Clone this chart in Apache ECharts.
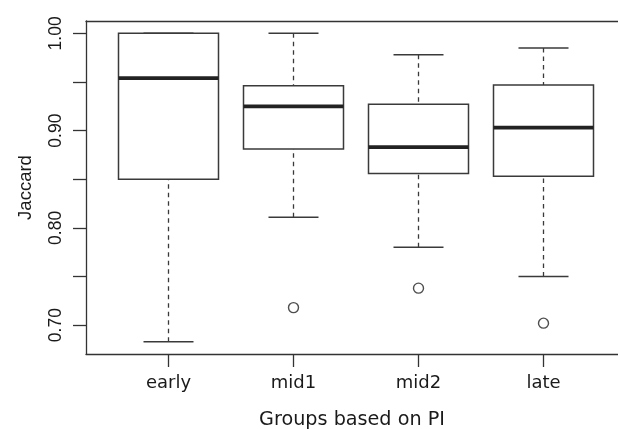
<!DOCTYPE html>
<html>
<head>
<meta charset="utf-8">
<script src="https://cdn.jsdelivr.net/npm/echarts@6/dist/echarts.min.js"></script>
<style>html,body{margin:0;padding:0;background:#fff}#c{width:618px;height:429px}</style>
</head>
<body>
<div id="c"></div>
<script>
var categories = ['early', 'mid1', 'mid2', 'late'];
var lowWhisker = [0.683, 0.811, 0.780, 0.750];
var q1 = [0.850, 0.881, 0.856, 0.853];
var median = [0.954, 0.925, 0.883, 0.903];
var q3 = [1.000, 0.946, 0.927, 0.947];
var highWhisker = [1.000, 1.000, 0.978, 0.985];
var outlierGroup = [2, 3, 4];
var outlierValue = [0.718, 0.738, 0.702];
var yTicks = [0.70, 0.75, 0.80, 0.85, 0.90, 0.95, 1.00];
var yLabels = [0.70, 0.80, 0.90, 1.00];
var xTicks = [1, 2, 3, 4];

var boxData = categories.map(function (c, i) {
  return [i + 1, lowWhisker[i], q1[i], median[i], q3[i], highWhisker[i]];
});
var outData = outlierGroup.map(function (g, i) { return [g, outlierValue[i]]; });

var ink = '#1a1a1a';
var frame = {color: '#333', width: 1.3};
var chart = echarts.init(document.getElementById('c'), null, {renderer: 'canvas'});
chart.setOption({
  animation: false,
  grid: {left: 86, right: 0, top: 21, bottom: 75, outerBoundsMode: 'none', containLabel: false},
  xAxis: [{
    type: 'value', min: 0.34, max: 4.596,
    name: 'Groups based on PI', nameLocation: 'middle', nameGap: 57,
    nameTextStyle: {fontFamily: 'DejaVu Sans', fontSize: 19.2, color: ink},
    axisLine: {show: true, lineStyle: frame},
    splitLine: {show: false},
    axisTick: {show: true, length: 13, customValues: xTicks, lineStyle: frame},
    axisLabel: {customValues: xTicks, margin: 20, fontFamily: 'DejaVu Sans', fontSize: 18, color: ink,
      formatter: function (v) { return categories[Math.round(v) - 1] || ''; }}
  }, {
    type: 'value', min: 0.34, max: 4.596, position: 'top',
    axisLine: {show: true, lineStyle: frame},
    splitLine: {show: false}, axisTick: {show: false}, axisLabel: {show: false}
  }],
  yAxis: {
    type: 'value', min: 0.6703, max: 1.0127,
    name: 'Jaccard', nameLocation: 'middle', nameGap: 51, nameRotate: 90,
    nameTextStyle: {fontFamily: 'Liberation Sans', fontSize: 18.5, color: ink},
    axisLine: {show: true, lineStyle: frame},
    splitLine: {show: false},
    axisTick: {show: true, length: 13, customValues: yTicks, lineStyle: frame},
    axisLabel: {customValues: yLabels, rotate: 90, margin: 21, fontFamily: 'Liberation Sans', fontSize: 17.5, color: ink,
      formatter: function (v) { return v.toFixed(2); }}
  },
  series: [
    {
      type: 'custom',
      data: boxData,
      encode: {x: 0, y: [1, 2, 3, 4, 5]},
      renderItem: function (params, api) {
        var x = api.value(0);
        var lo = api.coord([x, api.value(1)]);
        var b1 = api.coord([x - 0.4, api.value(2)]);
        var b3 = api.coord([x + 0.4, api.value(4)]);
        var mL = api.coord([x - 0.4, api.value(3)]);
        var mR = api.coord([x + 0.4, api.value(3)]);
        var hi = api.coord([x, api.value(5)]);
        var cL = api.coord([x - 0.2, 0.8])[0];
        var cR = api.coord([x + 0.2, 0.8])[0];
        var solid = {stroke: '#3a3a3a', lineWidth: 1.5, fill: null};
        var dashed = {stroke: '#3a3a3a', lineWidth: 1.3, lineDash: [4.5, 4]};
        return {
          type: 'group',
          children: [
            {type: 'line', shape: {x1: lo[0], y1: lo[1], x2: lo[0], y2: b1[1]}, style: dashed},
            {type: 'line', shape: {x1: hi[0], y1: hi[1], x2: hi[0], y2: b3[1]}, style: dashed},
            {type: 'line', shape: {x1: cL, y1: lo[1], x2: cR, y2: lo[1]}, style: solid},
            {type: 'line', shape: {x1: cL, y1: hi[1], x2: cR, y2: hi[1]}, style: solid},
            {type: 'rect', shape: {x: b1[0], y: b3[1], width: b3[0] - b1[0], height: b1[1] - b3[1]}, style: {stroke: '#3a3a3a', lineWidth: 1.5, fill: 'rgba(0,0,0,0)'}},
            {type: 'line', shape: {x1: mL[0], y1: mL[1], x2: mR[0], y2: mR[1]}, style: {stroke: '#222', lineWidth: 3.8}}
          ]
        };
      }
    },
    {
      type: 'scatter',
      data: outData,
      symbol: 'circle',
      symbolSize: 10,
      itemStyle: {color: '#fff', borderColor: '#222', borderWidth: 1.4}
    }
  ]
});
</script>
</body>
</html>
